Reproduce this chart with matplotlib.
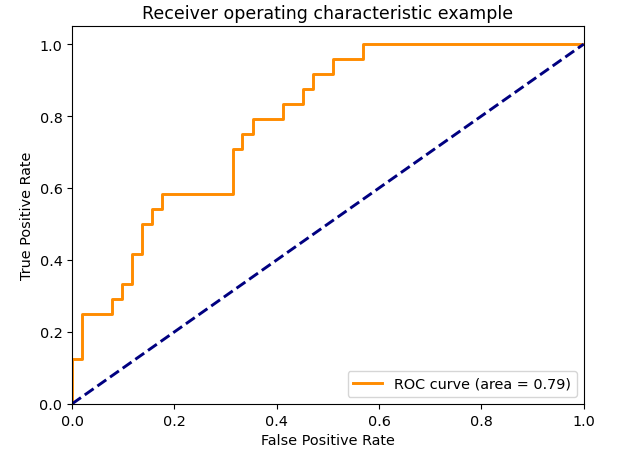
import matplotlib
matplotlib.use("Agg")
import matplotlib.pyplot as plt

# ROC curve (step points)
fpr = [0.0, 0.0, 0.020, 0.020, 0.078, 0.078, 0.098, 0.098, 0.118, 0.118,
       0.137, 0.137, 0.157, 0.157, 0.176, 0.176, 0.314, 0.314, 0.333, 0.333,
       0.353, 0.353, 0.412, 0.412, 0.451, 0.451, 0.471, 0.471, 0.510, 0.510,
       0.569, 0.569, 1.0]
tpr = [0.0, 0.125, 0.125, 0.250, 0.250, 0.292, 0.292, 0.333, 0.333, 0.417,
       0.417, 0.500, 0.500, 0.542, 0.542, 0.583, 0.583, 0.708, 0.708, 0.750,
       0.750, 0.792, 0.792, 0.833, 0.833, 0.875, 0.875, 0.917, 0.917, 0.958,
       0.958, 1.0, 1.0]
roc_auc = 0.79

plt.rcParams["font.size"] = 10.4

fig = plt.figure(figsize=(6.27, 4.6), dpi=100)
ax = fig.add_axes([0.115, 0.12, 0.816, 0.821])

ax.plot(fpr, tpr, color="darkorange", lw=2.1,
        label="ROC curve (area = %0.2f)" % roc_auc)
ax.plot([0, 1], [0, 1], color="navy", lw=2.1, linestyle="--")

ax.set_xlim([0.0, 1.0])
ax.set_ylim([0.0, 1.05])
ax.set_xlabel("False Positive Rate")
ax.set_ylabel("True Positive Rate")
ax.set_title("Receiver operating characteristic example", fontsize=12.5)
ax.legend(loc="lower right")

fig.savefig("out.png", dpi=100)
plt.close(fig)
